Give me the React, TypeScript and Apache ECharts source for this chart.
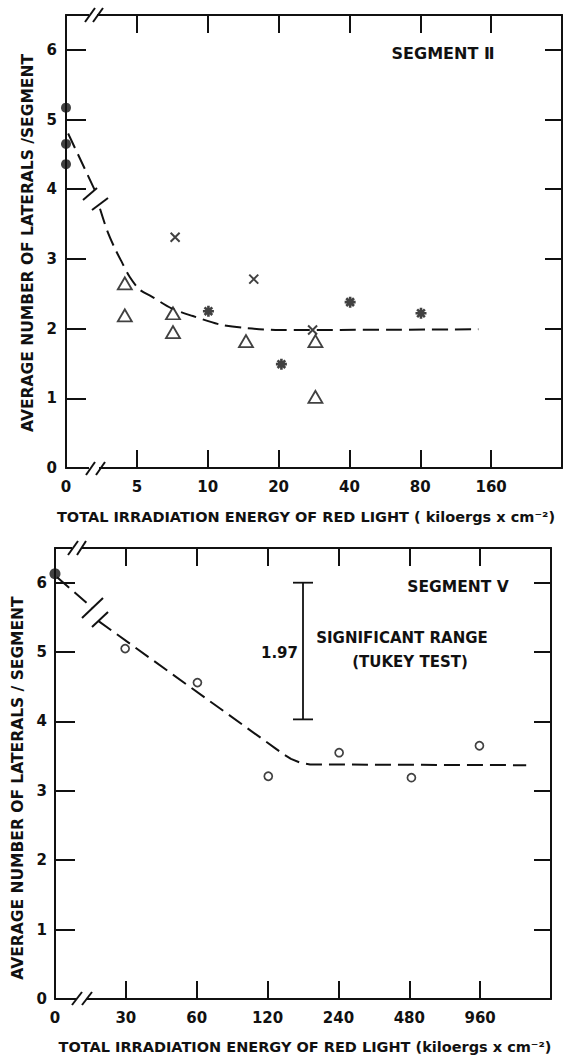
import React, { useEffect, useRef } from "react";
import * as echarts from "echarts";

// Tick labels (each tick is one doubling of the dose; slot 0 = unirradiated control)
const TOP_X_LABELS = ["0", "5", "10", "20", "40", "80", "160"];
const BOTTOM_X_LABELS = ["0", "30", "60", "120", "240", "480", "960"];

// Segment II (x in tick-slot units, y = average laterals/segment)
const topControl = [[0, 5.17], [0, 4.65], [0, 4.36]];
const topTriangles = [[0.83, 2.65], [0.83, 2.19], [1.51, 2.22], [1.51, 1.95], [2.54, 1.82], [3.52, 1.82], [3.52, 1.02]];
const topCrosses = [[1.54, 3.31], [2.65, 2.71], [3.48, 1.98]];
const topStars = [[2.01, 2.25], [3.04, 1.49], [4.01, 2.38], [5.01, 2.22]];
const topCurveA = [[0.03, 4.8], [0.41, 3.98]];
const topCurveB = [
  [0.48, 3.72], [0.58, 3.41], [0.69, 3.15], [0.79, 2.95], [0.9, 2.74], [1.04, 2.56], [1.21, 2.46],
  [1.49, 2.29], [1.79, 2.18], [2.17, 2.06], [2.52, 2.01], [3.01, 1.98], [5.82, 1.99],
];

// Segment V
const bottomControl = [[0, 6.13]];
const bottomCircles = [[0.99, 5.05], [2.01, 4.56], [3.01, 3.21], [4.01, 3.55], [5.03, 3.19], [5.99, 3.65]];
const bottomCurveA = [[0.03, 6.08], [0.535, 5.63]];
const bottomCurveB = [[0.61, 5.45], [3.1, 3.62], [3.22, 3.53], [3.33, 3.46], [3.45, 3.41], [3.6, 3.38], [6.65, 3.37]];
const tukeyBar = [[3.5, 4.03, 6.0]];

const INK = "#111";
const FONT = "DejaVu Sans";

function xAxes(gridIndex: number, labels: string[]) {
  const common = {
    type: "value",
    gridIndex,
    min: 0,
    max: 7,
    interval: 1,
    axisLine: { show: true, onZero: false, lineStyle: { color: INK, width: 2 } },
    axisTick: { show: true, inside: true, length: 18, lineStyle: { color: INK, width: 2 } },
    splitLine: { show: false },
  };
  return [
    {
      ...common,
      position: "bottom",
      axisLabel: {
        show: true,
        margin: 11,
        color: INK,
        fontSize: 15,
        fontWeight: "bold",
        fontFamily: FONT,
        formatter: (v: number) => labels[v] ?? "",
      },
    },
    { ...common, position: "top", axisLabel: { show: false } },
  ];
}

function yAxes(gridIndex: number, margin: number) {
  const common = {
    type: "value",
    gridIndex,
    min: 0,
    max: 6.5,
    interval: 1,
    axisLine: { show: true, onZero: false, lineStyle: { color: INK, width: 2 } },
    splitLine: { show: false },
  };
  return [
    {
      ...common,
      position: "left",
      axisTick: { show: true, inside: true, length: 20, lineStyle: { color: INK, width: 2 } },
      axisLabel: {
        show: true,
        margin,
        color: INK,
        fontSize: 15,
        fontWeight: "bold",
        fontFamily: FONT,
        formatter: (v: number) => (Number.isInteger(v) ? String(v) : ""),
      },
    },
    {
      ...common,
      position: "right",
      axisTick: { show: true, inside: true, length: 17, lineStyle: { color: INK, width: 2 } },
      axisLabel: { show: false },
    },
  ];
}

const dashed = (data: number[][], xi: number, yi: number, smooth: number | boolean) => ({
  type: "line",
  xAxisIndex: xi,
  yAxisIndex: yi,
  data,
  symbol: "none",
  smooth,
  lineStyle: { color: INK, width: 2, type: [16, 7] },
  z: 2,
});

const scatter = (data: number[][], xi: number, yi: number, extra: any) => ({
  type: "scatter",
  xAxisIndex: xi,
  yAxisIndex: yi,
  data,
  z: 3,
  ...extra,
});

const seg = (x1: number, y1: number, x2: number, y2: number, w = 2) => ({
  type: "line",
  z: 100,
  shape: { x1, y1, x2, y2 },
  style: { stroke: INK, lineWidth: w },
});
const gap = (x: number, y: number, width: number, height: number) => ({
  type: "rect",
  z: 99,
  shape: { x, y, width, height },
  style: { fill: "#fff" },
});
const label = (text: string, x: number, y: number, size: number, rotation = 0) => ({
  type: "text",
  z: 100,
  x,
  y,
  rotation,
  style: {
    text,
    fill: INK,
    font: `bold ${size}px "${FONT}"`,
    align: "center",
    verticalAlign: "middle",
  },
});

const CROSS = "path://M0,0L10,10M10,0L0,10";
const STAR = "path://M5,0L5,10M0,5L10,5M1.5,1.5L8.5,8.5M8.5,1.5L1.5,8.5";

export default function App() {
  const ref = useRef<HTMLDivElement>(null);
  useEffect(() => {
    if (!ref.current) return;
    const chart = echarts.init(ref.current, null, { renderer: "svg" });
    chart.setOption({
      animation: false,
      backgroundColor: "#fff",
      textStyle: { fontFamily: FONT },
      grid: [
        { left: 66, top: 15, width: 496, height: 453 },
        { left: 55, top: 548, width: 496, height: 451 },
      ],
      xAxis: [...xAxes(0, TOP_X_LABELS), ...xAxes(1, BOTTOM_X_LABELS)],
      yAxis: [...yAxes(0, 9), ...yAxes(1, 8)],
      series: [
        dashed(topCurveA, 0, 0, false),
        dashed(topCurveB, 0, 0, 0.3),
        scatter(topControl, 0, 0, { symbol: "circle", symbolSize: 10, itemStyle: { color: INK } }),
        scatter(topTriangles, 0, 0, {
          symbol: "triangle",
          symbolSize: [14, 12],
          itemStyle: { color: "#fff", borderColor: INK, borderWidth: 1.8 },
        }),
        scatter(topCrosses, 0, 0, {
          symbol: CROSS,
          symbolSize: 9,
          itemStyle: { color: "none", borderColor: INK, borderWidth: 2 },
        }),
        scatter(topStars, 0, 0, {
          symbol: STAR,
          symbolSize: 11,
          itemStyle: { color: "none", borderColor: INK, borderWidth: 2.6 },
        }),
        dashed(bottomCurveA, 2, 2, false),
        dashed(bottomCurveB, 2, 2, false),
        scatter(bottomControl, 2, 2, { symbol: "circle", symbolSize: 11, itemStyle: { color: INK } }),
        scatter(bottomCircles, 2, 2, {
          symbol: "circle",
          symbolSize: 8,
          itemStyle: { color: "#fff", borderColor: INK, borderWidth: 1.7 },
        }),
        {
          type: "custom",
          xAxisIndex: 2,
          yAxisIndex: 2,
          data: tukeyBar,
          z: 4,
          renderItem: (_p: any, api: any) => {
            const x = api.value(0);
            const lo = api.value(1);
            const hi = api.value(2);
            const t = api.coord([x, hi]);
            const b = api.coord([x, lo]);
            const cap = 10;
            const mid = (t[1] + b[1]) / 2;
            const st = { stroke: INK, lineWidth: 1.8 };
            const txt = (text: string, tx: number, ty: number, align: string) => ({
              type: "text",
              x: tx,
              y: ty,
              style: { text, fill: INK, font: `bold 15px "${FONT}"`, align, verticalAlign: "middle" },
            });
            return {
              type: "group",
              children: [
                { type: "line", shape: { x1: t[0], y1: t[1], x2: b[0], y2: b[1] }, style: st },
                { type: "line", shape: { x1: t[0] - cap, y1: t[1], x2: t[0] + cap, y2: t[1] }, style: st },
                { type: "line", shape: { x1: b[0] - cap, y1: b[1], x2: b[0] + cap, y2: b[1] }, style: st },
                txt((hi - lo).toFixed(2), t[0] - 5, mid + 2, "right"),
                txt("SIGNIFICANT RANGE", t[0] + 99, mid - 13, "center"),
                txt("(TUKEY TEST)", t[0] + 107, mid + 11, "center"),
              ],
            };
          },
        },
      ],
      graphic: [
        label("SEGMENT Ⅱ", 443, 53, 16),
        label("SEGMENT Ⅴ", 458, 587, 15.5),
        label("AVERAGE NUMBER OF LATERALS /SEGMENT", 28, 243, 15.5, Math.PI / 2),
        label("AVERAGE NUMBER OF LATERALS / SEGMENT", 18, 788, 15.5, Math.PI / 2),
        label("TOTAL IRRADIATION ENERGY OF RED LIGHT ( kiloergs x cm⁻²)", 306, 517, 14.5),
        label("TOTAL IRRADIATION ENERGY OF RED LIGHT (kiloergs x cm⁻²)", 305, 1047, 14.5),
        // axis breaks, Segment II
        gap(89, 464, 10, 8),
        seg(86, 475, 95, 462),
        seg(96, 475, 105, 462),
        gap(89, 11, 8, 8),
        seg(85, 22, 95, 8),
        seg(93, 22, 103, 8),
        // curve break, Segment II
        seg(83, 200, 97, 188),
        seg(92, 210, 108, 198),
        // axis breaks, Segment V
        gap(72, 544, 9, 8),
        seg(68, 555, 78, 541),
        seg(77, 555, 86, 541),
        gap(76, 995, 10, 8),
        seg(72, 1005, 82, 992),
        seg(82, 1005, 92, 992),
        // curve break, Segment V
        seg(82, 618, 103, 598),
        seg(92, 627, 108, 612),
      ],
    });
    return () => chart.dispose();
  }, []);
  return (
    <div
      ref={ref}
      style={{ position: "absolute", left: 0, top: 0, width: 581, height: 1058, background: "#fff" }}
    />
  );
}
